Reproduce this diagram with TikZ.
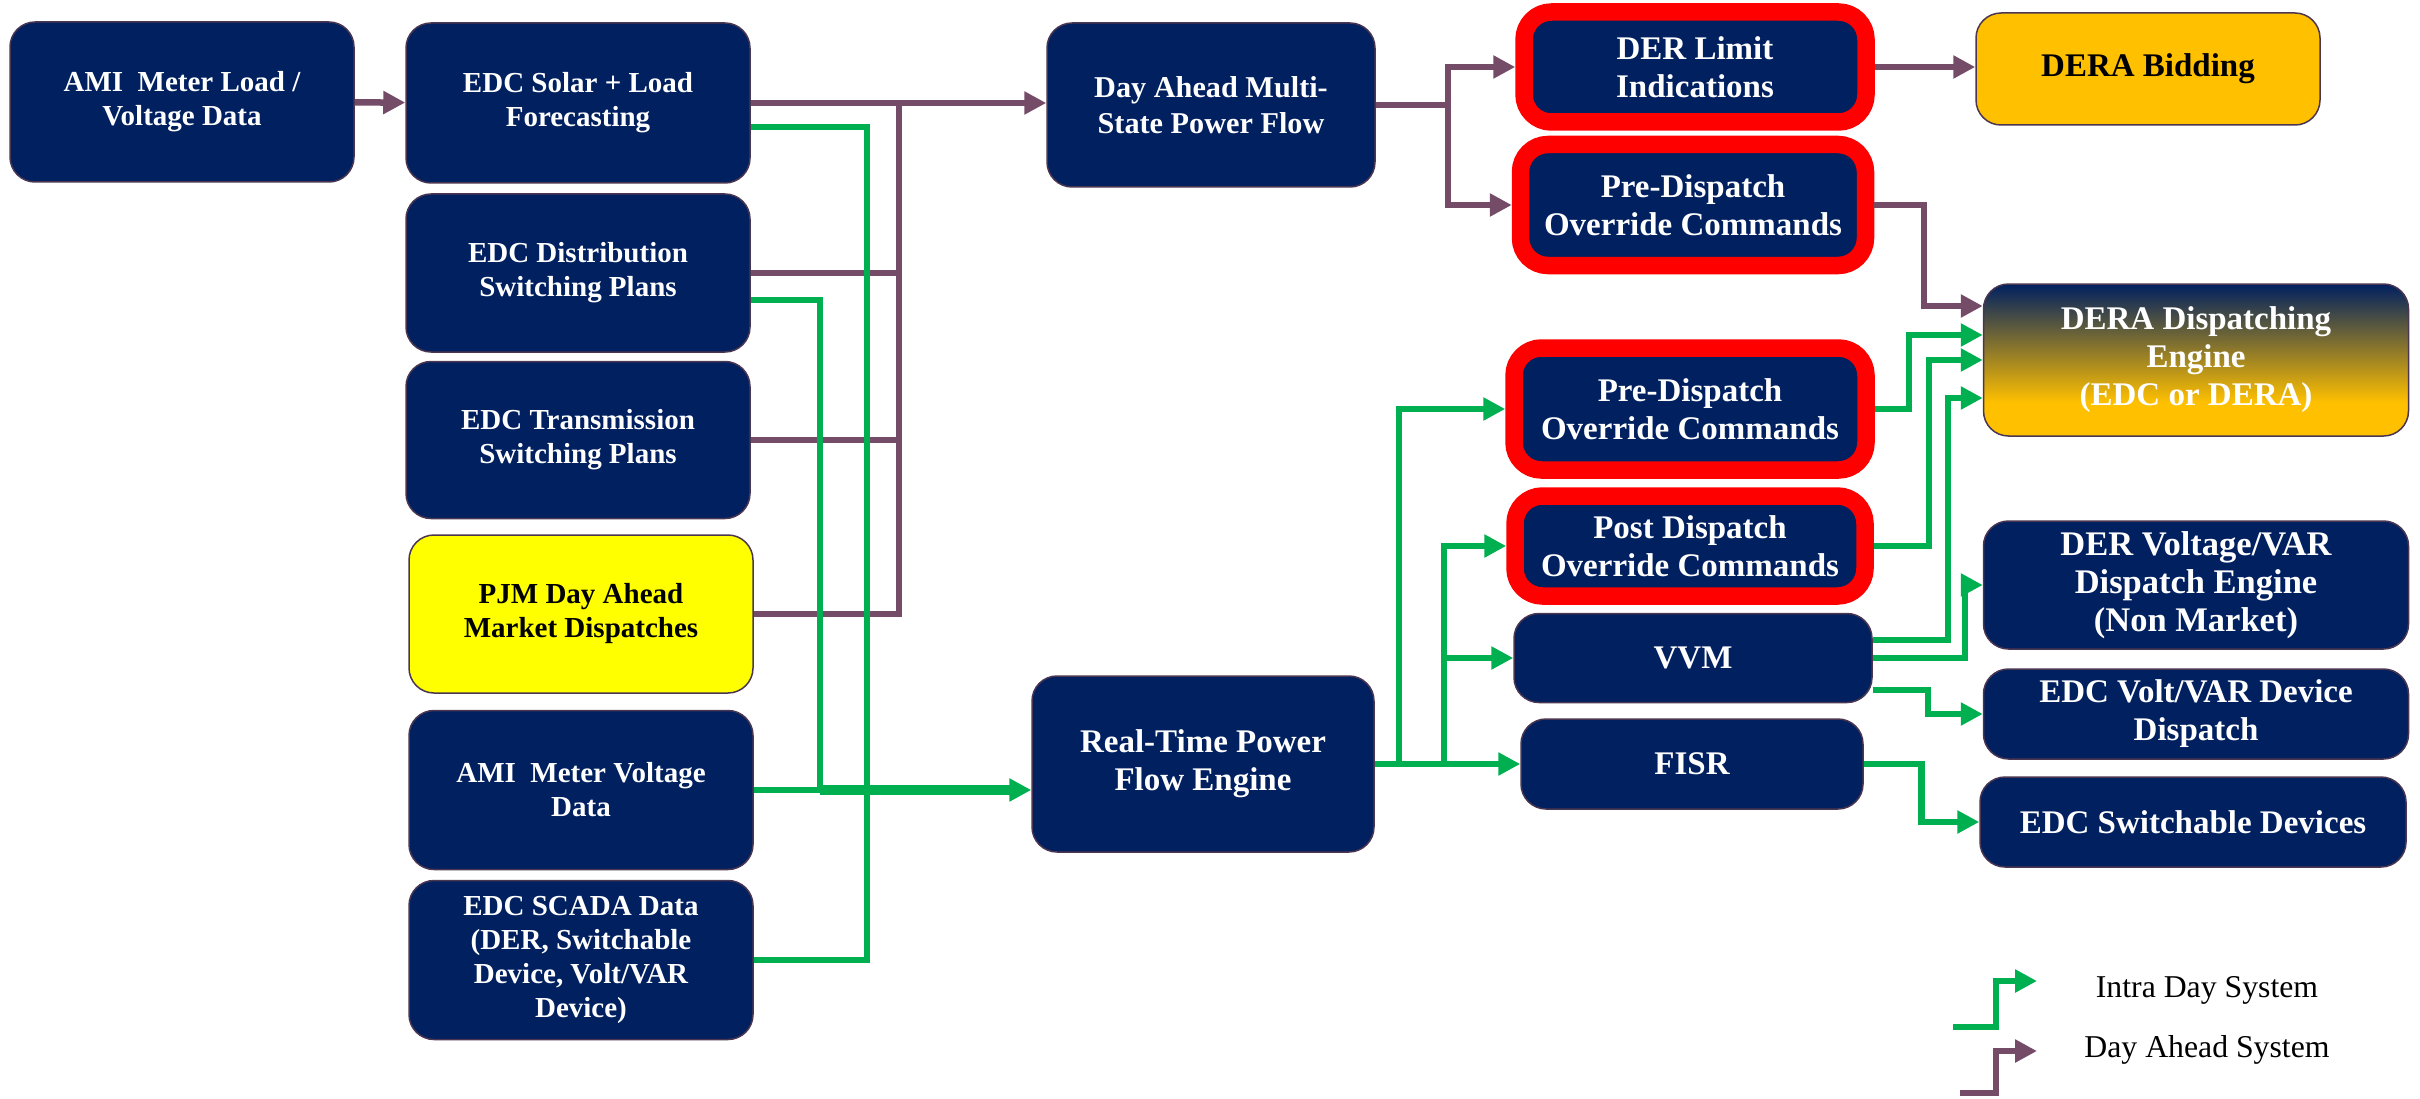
\documentclass[tikz,border=0pt]{standalone}
\usepackage{fontspec}
\setmainfont{Liberation Serif}
\usetikzlibrary{arrows.meta,calc}

\definecolor{navy}{HTML}{002060}
\definecolor{daypurple}{HTML}{744C68}
\definecolor{intragreen}{HTML}{00B050}
\definecolor{deraorange}{HTML}{FFC000}
\definecolor{pjmyellow}{HTML}{FFFF00}
\definecolor{boxedge}{HTML}{4A3650}
\pgfdeclareverticalshading{deragrad}{100bp}{color(0bp)=(deraorange); color(25bp)=(deraorange); color(36bp)=(deraorange); color(75bp)=(navy); color(100bp)=(navy)}

\begin{document}
\begin{tikzpicture}[x=0.4pt, y=-0.4pt,
    box/.style={draw=boxedge, line width=0.6pt, fill=navy, rounded corners=10pt, text=white, align=center, inner sep=0pt,
        font=\bfseries\fontsize{13.2}{15.2}\selectfont},
    inputbox/.style={box, font=\bfseries\fontsize{11.6}{13.6}\selectfont},
    redbox/.style={box, draw=red, line width=7pt, rounded corners=11pt},
    boxsize/.style 2 args={minimum width=#1*0.4pt, minimum height=#2*0.4pt},
    dayahead/.style={draw=daypurple, line width=2.6pt},
    intraday/.style={draw=intragreen, line width=2.6pt},
    flowtip/.style={-{Triangle[length=8.8pt,width=8.8pt]}},
    legendtext/.style={font=\fontsize{12.7}{15}\selectfont}]
    \useasboundingbox (0,0) rectangle (2420,1099);

    % inputs
    \node[inputbox, boxsize={344}{160}] (amiload) at (182,102) {AMI\ \ Meter Load /\\Voltage Data};
    \node[inputbox, boxsize={344}{160}] (solar) at (578,103) {EDC Solar + Load\\Forecasting};
    \node[inputbox, boxsize={344}{158}] (distplan) at (578,273) {EDC Distribution\\Switching Plans};
    \node[inputbox, boxsize={344}{157}] (transplan) at (578,440) {EDC Transmission\\Switching Plans};
    \node[inputbox, boxsize={344}{158}, fill=pjmyellow, text=black] (pjm) at (581,614) {PJM Day Ahead\\Market Dispatches};
    \node[inputbox, boxsize={344}{159}] (amivolt) at (581,790) {AMI\ \ Meter Voltage\\Data};
    \node[inputbox, boxsize={344}{159}] (scada) at (581,960) {EDC SCADA Data\\(DER, Switchable\\Device, Volt/VAR\\Device)};

    % engines
    \node[box, boxsize={328}{164}, font=\bfseries\fontsize{12.1}{14.3}\selectfont] (dayahead) at (1211,105) {Day Ahead Multi-\\State Power Flow};
    \node[box, boxsize={342}{176}] (realtime) at (1203,764) {Real-Time Power\\Flow Engine};

    \node[redbox, boxsize={342}{110}] (derlimit) at (1695,67) {DER Limit\\Indications};
    \node[redbox, boxsize={345}{121}] (predisp1) at (1693,205) {Pre-Dispatch\\Override Commands};
    \node[redbox, boxsize={352}{122}] (predisp2) at (1690,409) {Pre-Dispatch\\Override Commands};
    \node[redbox, boxsize={350}{100}] (postdisp) at (1690,546) {Post Dispatch\\Override Commands};
    \node[box, boxsize={358}{89}] (vvm) at (1693,658) {VVM};
    \node[box, boxsize={342}{90}] (fisr) at (1692,764) {FISR};

    % outputs
    \node[box, boxsize={344}{112}, fill=deraorange, text=black] (bidding) at (2148,69) {DERA Bidding};
    \node[box, boxsize={425}{152}, shade, shading=deragrad] (deradisp) at (2196,360) {DERA Dispatching\\Engine\\(EDC or DERA)};
    \node[box, boxsize={425}{128}, font=\bfseries\fontsize{13.8}{15.2}\selectfont] (dervolt) at (2196,585) {DER Voltage/VAR\\Dispatch Engine\\(Non Market)};
    \node[box, boxsize={425}{90}] (voltvar) at (2196,714) {EDC Volt/VAR Device\\Dispatch};
    \node[box, boxsize={426}{90}] (switchdev) at (2193,822) {EDC Switchable Devices};

    % day ahead flow
    \coordinate (dabus) at (899,103);
    \draw[dayahead, flowtip] (amiload) -- (solar);
    \draw[dayahead, flowtip] (solar.east) -- (solar.east -| dayahead.west);
    \draw[dayahead] (distplan.east) -| (dabus);
    \draw[dayahead] (transplan.east) -| (dabus);
    \draw[dayahead] (pjm.east) -| (dabus);

    \coordinate (dasplit) at (1448,105);
    \draw[dayahead] (dayahead.east) -- (dasplit);
    \draw[dayahead, flowtip] (dasplit) |- (derlimit.west);
    \draw[dayahead, flowtip] (dasplit) |- (predisp1.west);
    \draw[dayahead, flowtip] (derlimit.east) -- (derlimit.east -| bidding.west);

    \coordinate (ddin1) at ($(deradisp.west)+(0,-54)$);
    \coordinate (ddin2) at ($(deradisp.west)+(0,-25)$);
    \coordinate (ddin3) at (deradisp.west);
    \coordinate (ddin4) at ($(deradisp.west)+(0,38)$);
    \draw[dayahead, flowtip] (predisp1.east) -| ($(ddin1)+(-59,0)$) -- (ddin1);

    % intra day flow
    \coordinate (rtin1) at (867,790);
    \coordinate (rtin2) at (820,790);
    \draw[intraday] ($(solar.east)+(0,24)$) -| (rtin1);
    \draw[intraday] ($(distplan.east)+(0,27)$) -| (rtin2);
    \draw[intraday] (scada.east) -| (rtin1);
    \draw[intraday] (amivolt.east) -- (rtin2);
    \draw[intraday, line width=4pt, flowtip] (rtin2) -- (realtime.west |- rtin2);

    \coordinate (rtsplit1) at (1399,764);
    \coordinate (rtsplit2) at (1444,764);
    \draw[intraday, flowtip] (realtime.east) -- (fisr.west);
    \draw[intraday, flowtip] (rtsplit1) |- (predisp2.west);
    \draw[intraday, flowtip] (rtsplit2) |- (postdisp.west);
    \draw[intraday, flowtip] (rtsplit2) |- (vvm.west);

    \draw[intraday, flowtip] (predisp2.east) -| ($(ddin2)+(-74,0)$) -- (ddin2);
    \draw[intraday, flowtip] (postdisp.east) -| ($(ddin3)+(-54,0)$) -- (ddin3);
    \draw[intraday, flowtip] ($(vvm.east)+(0,-18)$) -| ($(ddin4)+(-35,0)$) -- (ddin4);
    \draw[intraday, flowtip] (vvm.east) -| ($(dervolt.west)+(-18,0)$) -- (dervolt.west);
    \draw[intraday, flowtip] ($(vvm.east)+(0,32)$) -| ($(voltvar.west)+(-55,0)$) -- (voltvar.west);
    \draw[intraday, flowtip] (fisr.east) -| ($(switchdev.west)+(-58,0)$) -- (switchdev.west);

    % legend
    \coordinate (lgintra) at (1953,1027);
    \coordinate (lgintratip) at (2037,981);
    \draw[intraday, flowtip] (lgintra) -- (1996,1027) |- (lgintratip);
    \node[legendtext] (intralabel) at (2207,990) {Intra Day System};
    \coordinate (lgday) at (1960,1093);
    \coordinate (lgdaytip) at (2037,1051);
    \draw[dayahead, flowtip] (lgday) -- (1996,1093) |- (lgdaytip);
    \node[legendtext] (daylabel) at (2207,1050) {Day Ahead System};
\end{tikzpicture}
\end{document}
